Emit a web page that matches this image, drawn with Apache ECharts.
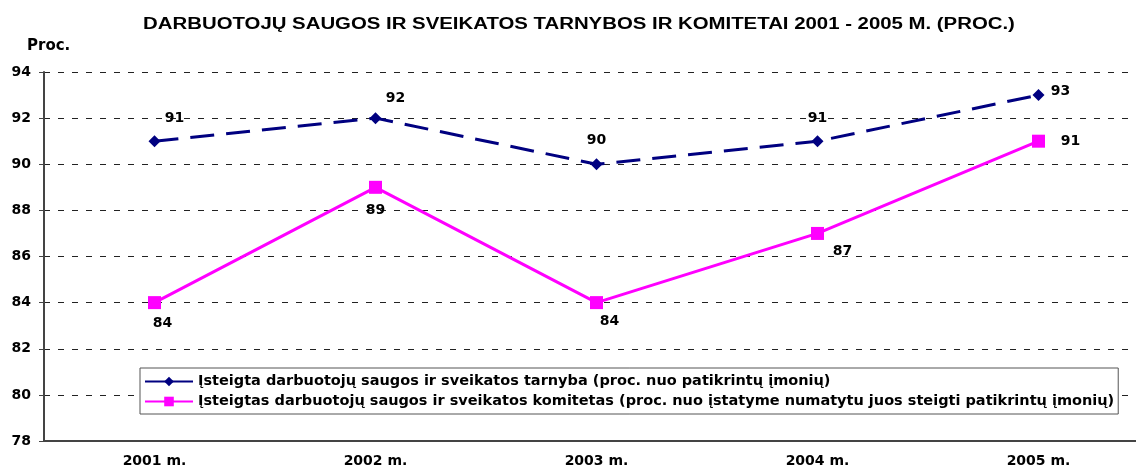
<!DOCTYPE html>
<html>
<head>
<meta charset="utf-8">
<script src="https://cdn.jsdelivr.net/npm/echarts@6/dist/echarts.min.js"></script>
<style>
  html, body { margin: 0; padding: 0; background: #fff; }
  #chart { width: 1136px; height: 470px; }
</style>
</head>
<body>
<div id="chart"></div>
<script>
// duomenys
var years = ['2001 m.', '2002 m.', '2003 m.', '2004 m.', '2005 m.'];
var tarnyba = [91, 92, 90, 91, 93];
var komitetai = [84, 89, 84, 87, 91];
var nameTarnyba = 'Įsteigta darbuotojų saugos ir sveikatos tarnyba (proc. nuo patikrintų įmonių)';
var nameKomitetai = 'Įsteigtas darbuotojų saugos ir sveikatos komitetas (proc. nuo įstatyme numatytu juos steigti patikrintų įmonių)';
var titleText = 'DARBUOTOJŲ SAUGOS IR SVEIKATOS TARNYBOS IR KOMITETAI 2001 - 2005 M. (PROC.)';

// etikečių poslinkiai
var offTarnyba = [[20, -23], [20, -20], [0, -24], [0, -23], [22, -4]];
var offKomitetai = [[8, 21], [0, 23], [13, 19], [25, 18], [32, 0]];

var wide = '"DejaVu Sans", sans-serif';
var arial = 'Arial, "Liberation Sans", sans-serif';

var withLabels = function (vals, offs) {
    return vals.map(function (v, i) {
        return { value: v, label: { offset: offs[i] } };
    });
};

var chart = echarts.init(document.getElementById('chart'));
chart.setOption({
    animation: false,
    textStyle: { fontFamily: wide },
    graphic: [
        {   // antraštė (ištempta horizontaliai kaip originale)
            type: 'text',
            x: 579, y: 25,
            scaleX: 1.273,
            style: {
                text: titleText,
                font: 'bold 16px ' + arial,
                fill: '#000',
                align: 'center', verticalAlign: 'middle'
            }
        },
        {
            type: 'text',
            x: 27, y: 46,
            style: {
                text: 'Proc.',
                font: 'bold 15px ' + wide,
                fill: '#000',
                align: 'left', verticalAlign: 'middle'
            }
        }
    ],
    legend: {
        orient: 'vertical',
        left: 140, top: 368,
        padding: [6, 4, 5, 4],
        itemGap: 5,
        itemWidth: 48, itemHeight: 12,
        backgroundColor: '#fff',
        borderColor: '#555', borderWidth: 1,
        textStyle: { fontSize: 14.5, fontWeight: 'bold', color: '#000', fontFamily: wide },
        data: [
            { name: nameTarnyba, lineStyle: { type: 'solid' } },
            { name: nameKomitetai }
        ]
    },
    grid: { left: 44, width: 1105, top: 72, bottom: 29, outerBoundsMode: 'none' },
    xAxis: {
        type: 'category',
        data: years,
        boundaryGap: true,
        axisLine: { lineStyle: { color: '#444', width: 2 } },
        axisTick: { lineStyle: { color: '#444' }, length: 5 },
        axisLabel: { fontSize: 14, fontWeight: 'bold', color: '#000', margin: 13 }
    },
    yAxis: {
        type: 'value',
        min: 78, max: 94, interval: 2,
        axisLine: { show: true, lineStyle: { color: '#444', width: 2 } },
        axisTick: { show: true, lineStyle: { color: '#444' }, length: 5 },
        axisLabel: { fontSize: 14, fontWeight: 'bold', color: '#000', margin: 13 },
        splitLine: { lineStyle: { color: '#222', type: [6, 8], width: 1 } }
    },
    series: [
        {
            name: nameTarnyba,
            type: 'line',
            data: withLabels(tarnyba, offTarnyba),
            symbol: 'diamond', symbolSize: 12,
            itemStyle: { color: '#000080' },
            lineStyle: { color: '#000080', width: 3, type: [24, 12] },
            label: { show: true, position: 'inside', fontSize: 14, fontWeight: 'bold', color: '#000' },
            z: 3
        },
        {
            name: nameKomitetai,
            type: 'line',
            data: withLabels(komitetai, offKomitetai),
            symbol: 'rect', symbolSize: 13,
            itemStyle: { color: '#ff00ff' },
            lineStyle: { color: '#ff00ff', width: 3 },
            label: { show: true, position: 'inside', fontSize: 14, fontWeight: 'bold', color: '#000' },
            z: 2
        }
    ]
});
</script>
</body>
</html>
